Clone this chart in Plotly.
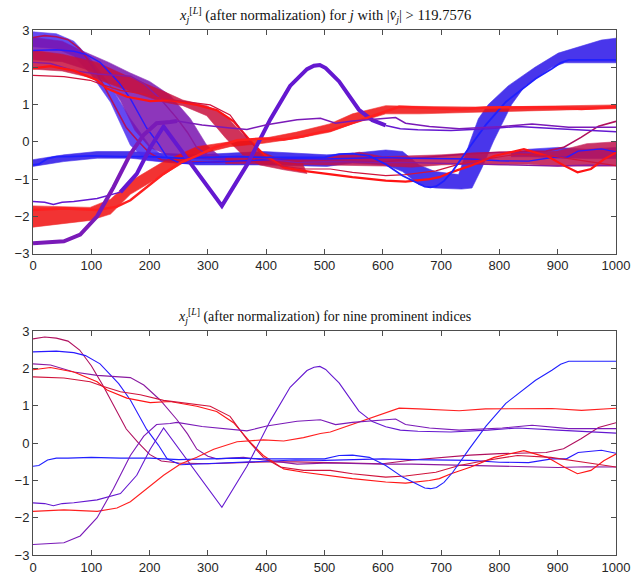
import plotly.graph_objects as go
from plotly.subplots import make_subplots

# ---------------- nine prominent trajectories ----------------
A_x = [0, 20, 40, 60, 80, 100, 120, 140, 160, 180, 200, 220, 250, 300, 350, 400, 450, 500, 550, 600, 650, 700, 750, 800, 850, 880, 910, 940, 970, 1000]
A_y = [2.8, 2.85, 2.82, 2.74, 2.5, 2.08, 1.55, 0.95, 0.38, 0.02, -0.3, -0.48, -0.53, -0.55, -0.52, -0.5, -0.5, -0.52, -0.55, -0.55, -0.45, -0.38, -0.32, -0.28, -0.25, -0.25, -0.15, 0.12, 0.42, 0.55]

B_x = [0, 40, 70, 90, 115, 147, 167, 195, 215, 230, 253, 300, 350, 400, 450, 500, 550, 600, 650, 700, 750, 800, 850, 890, 915, 935, 975, 1000]
B_y = [2.45, 2.47, 2.43, 2.35, 2.13, 1.6, 1.16, 0.37, -0.05, -0.42, -0.58, -0.55, -0.5, -0.47, -0.45, -0.46, -0.44, -0.42, -0.44, -0.44, -0.46, -0.51, -0.52, -0.42, -0.42, -0.25, -0.19, -0.27]

C_x = [0, 30, 70, 110, 167, 190, 218, 247, 265, 281, 300, 315, 361, 407, 453, 510, 550, 600, 650, 700, 750, 800, 850, 900, 950, 1000]
C_y = [2.13, 2.1, 1.91, 1.82, 1.76, 1.56, 1.16, 0.63, 0.25, -0.16, -0.35, -0.42, -0.38, -0.47, -0.56, -0.53, -0.55, -0.56, -0.56, -0.58, -0.6, -0.62, -0.62, -0.65, -0.63, -0.64]

D_x = [0, 30, 70, 110, 127, 161, 201, 235, 281, 315, 344, 373, 395, 430, 464, 510, 548, 605, 639, 680, 697, 717, 751, 791, 842, 882, 911, 934, 957, 979, 1000]
D_y = [1.97, 2.03, 1.91, 1.65, 1.43, 1.21, 1.09, 1.12, 0.99, 0.85, 0.55, 0.02, -0.33, -0.69, -0.78, -0.88, -0.95, -1.04, -1.07, -1.0, -0.95, -0.82, -0.64, -0.38, -0.2, -0.38, -0.64, -0.82, -0.73, -0.47, -0.29]

E_x = [0, 53, 98, 121, 150, 184, 224, 264, 304, 338, 367, 395, 424, 464, 510, 548, 605, 639, 691, 731, 774, 831, 888, 945, 1000]
E_y = [1.78, 1.75, 1.65, 1.52, 1.38, 1.3, 1.15, 1.07, 0.99, 0.72, 0.1, -0.38, -0.64, -0.73, -0.73, -0.82, -0.91, -0.88, -0.78, -0.6, -0.47, -0.33, -0.38, -0.51, -0.64]

F_x = [0, 10, 25, 40, 60, 100, 150, 200, 250, 300, 350, 400, 450, 500, 525, 548, 577, 605, 634, 662, 672, 682, 692, 705, 720, 748, 777, 811, 862, 890, 905, 919, 1000]
F_y = [-0.62, -0.6, -0.45, -0.4, -0.4, -0.38, -0.4, -0.4, -0.44, -0.42, -0.4, -0.42, -0.43, -0.42, -0.33, -0.32, -0.38, -0.6, -0.91, -1.13, -1.2, -1.22, -1.19, -1.05, -0.78, -0.16, 0.46, 1.07, 1.69, 1.96, 2.12, 2.2, 2.2]

G_x = [0, 20, 35, 50, 70, 110, 150, 178, 201, 224, 324, 367, 407, 441, 470, 482, 492, 502, 512, 525, 559, 582, 605, 630, 660, 717, 780, 832, 900, 1000]
G_y = [-1.6, -1.62, -1.68, -1.62, -1.6, -1.52, -1.35, -0.86, -0.16, 0.41, -1.72, -0.62, 0.6, 1.5, 1.95, 2.04, 2.06, 1.98, 1.82, 1.62, 0.86, 0.58, 0.44, 0.35, 0.32, 0.3, 0.35, 0.41, 0.35, 0.27]

H_x = [0, 53, 110, 144, 167, 195, 224, 253, 281, 310, 350, 395, 430, 464, 493, 510, 548, 588, 628, 662, 731, 776, 833, 890, 941, 1000]
H_y = [-1.83, -1.79, -1.83, -1.74, -1.57, -1.22, -0.86, -0.56, -0.38, -0.16, 0.04, 0.09, 0.06, 0.15, 0.26, 0.3, 0.5, 0.72, 0.94, 0.92, 0.87, 0.92, 0.93, 0.93, 0.88, 0.94]

I_x = [0, 53, 81, 110, 138, 167, 190, 212, 235, 247, 290, 338, 367, 401, 453, 493, 519, 548, 605, 622, 639, 680, 731, 805, 856, 919, 1000]
I_y = [-2.72, -2.67, -2.49, -2.0, -1.22, -0.33, 0.19, 0.5, 0.53, 0.56, 0.45, 0.37, 0.33, 0.46, 0.59, 0.63, 0.5, 0.56, 0.63, 0.65, 0.5, 0.41, 0.35, 0.41, 0.48, 0.39, 0.39]

line_names = ["A", "B", "C", "D", "E", "F", "G", "H", "I"]
line_data = {"A": (A_x, A_y), "B": (B_x, B_y), "C": (C_x, C_y), "D": (D_x, D_y), "E": (E_x, E_y),
             "F": (F_x, F_y), "G": (G_x, G_y), "H": (H_x, H_y), "I": (I_x, I_y)}
line_colors = {"A": "#b0105e", "B": "#2a1aff", "C": "#8a1aa0", "D": "#ff1414", "E": "#d0143c",
               "F": "#2020ff", "G": "#6418d0", "H": "#ff2020", "I": "#7a1ab8"}
# x-range in which a trajectory's bundle is thick in the upper panel
thick_span = {"G": (150, 615), "I": (0, 247)}

# ---------------- bundle envelopes for the upper panel (upper edge / lower edge) ----------------
fanblue_ux = [0, 40, 70, 100, 133, 167, 200, 225, 250]
fanblue_uy = [2.95, 2.9, 2.7, 2.2, 1.5, 0.62, -0.1, -0.4, -0.48]
fanblue_lx = [0, 40, 70, 100, 133, 167, 195, 250]
fanblue_ly = [2.55, 2.5, 2.3, 1.8, 1.06, -0.09, -0.5, -0.58]

fanpurple_ux = [0, 50, 80, 130, 165, 200, 235, 270, 298, 320, 350]
fanpurple_uy = [2.8, 2.7, 2.47, 2.13, 1.86, 1.62, 1.25, 0.62, -0.09, -0.38, -0.48]
fanpurple_lx = [0, 50, 100, 130, 150, 175, 200, 230, 280, 350]
fanpurple_ly = [2.2, 2.15, 1.9, 1.55, 1.1, 0.3, -0.15, -0.35, -0.45, -0.52]

fanred_ux = [0, 50, 110, 166, 223, 257, 298, 331, 360, 389, 420, 460]
fanred_uy = [2.45, 2.35, 2.13, 1.73, 1.36, 1.12, 0.97, 0.7, 0.2, -0.25, -0.45, -0.5]
fanred_lx = [0, 50, 110, 166, 223, 257, 298, 331, 360, 389, 430, 470]
fanred_ly = [1.95, 1.9, 1.68, 1.36, 1.07, 0.97, 0.7, 0.09, -0.36, -0.62, -0.75, -0.85]

blue_ux = [0, 53, 110, 167, 224, 281, 395, 504, 548, 605, 634, 662, 690, 730, 750, 764, 781, 815, 861, 901, 975, 1000]
blue_uy = [-0.48, -0.35, -0.26, -0.26, -0.31, -0.35, -0.26, -0.35, -0.31, -0.22, -0.26, -0.62, -0.8, -0.88, 0.02, 0.62, 1.0, 1.5, 2.0, 2.38, 2.73, 2.78]
blue_lx = [0, 53, 110, 167, 224, 281, 395, 504, 548, 605, 634, 662, 690, 735, 753, 770, 790, 821, 844, 890, 912, 1000]
blue_ly = [-0.66, -0.53, -0.44, -0.44, -0.53, -0.62, -0.62, -0.66, -0.57, -0.62, -0.8, -1.15, -1.24, -1.27, -1.24, -0.7, 0.02, 1.0, 1.5, 2.0, 2.12, 2.12]

redrise_ux = [0, 98, 133, 167, 224, 281, 338, 395, 452, 509, 548, 605, 662, 776, 1000]
redrise_uy = [-1.72, -1.76, -1.54, -1.06, -0.53, -0.13, 0.0, 0.09, 0.26, 0.48, 0.75, 0.97, 0.95, 0.93, 0.99]
redrise_lx = [0, 98, 133, 167, 224, 281, 338, 395, 452, 509, 548, 605, 662, 776, 1000]
redrise_ly = [-2.29, -2.11, -1.94, -1.41, -0.88, -0.35, -0.13, -0.04, 0.09, 0.26, 0.48, 0.75, 0.75, 0.8, 0.89]

crimson_ux = [330, 400, 500, 560, 600, 700, 750, 800, 850, 900, 950, 1000]
crimson_uy = [-0.4, -0.42, -0.42, -0.28, -0.4, -0.35, -0.3, -0.28, -0.3, -0.25, -0.05, 0.0]
crimson_lx = [330, 400, 500, 600, 650, 700, 750, 800, 850, 900, 1000]
crimson_ly = [-0.58, -0.6, -0.62, -0.65, -0.68, -0.62, -0.6, -0.62, -0.6, -0.65, -0.65]

blueright_ux = [820, 850, 900, 950, 1000]
blueright_uy = [-0.3, -0.2, -0.15, -0.2, -0.15]
blueright_lx = [820, 850, 900, 950, 1000]
blueright_ly = [-0.4, -0.4, -0.42, -0.45, -0.45]

bands = [
    ("blue", blue_ux, blue_uy, blue_lx, blue_ly, "#2a14e8"),
    ("blueright", blueright_ux, blueright_uy, blueright_lx, blueright_ly, "#3018f0"),
    ("fanblue", fanblue_ux, fanblue_uy, fanblue_lx, fanblue_ly, "#4a2af0"),
    ("fanpurple", fanpurple_ux, fanpurple_uy, fanpurple_lx, fanpurple_ly, "#7a14b0"),
    ("crimson", crimson_ux, crimson_uy, crimson_lx, crimson_ly, "#c0124e"),
    ("fanred", fanred_ux, fanred_uy, fanred_lx, fanred_ly, "#c8103e"),
    ("redrise", redrise_ux, redrise_uy, redrise_lx, redrise_ly, "#f01010"),
]

x_ticks = [0, 100, 200, 300, 400, 500, 600, 700, 800, 900, 1000]
y_ticks = [-3, -2, -1, 0, 1, 2, 3]

title_top = "<i>x</i><sub><i>j</i></sub><sup>[<i>L</i>]</sup> (after normalization) for <i>j</i> with |<i>v&#770;</i><sub><i>j</i></sub>| &gt; 119.7576"
title_bot = "<i>x</i><sub><i>j</i></sub><sup>[<i>L</i>]</sup> (after normalization) for nine prominent indices"

# ---------------- figure ----------------
W, H = 642, 587
ml, mr, mt, mb = 33, 23, 30, 24
fig = make_subplots(rows=2, cols=1)

for name, ux, uy, lx, ly, col in bands:
    fig.add_trace(go.Scatter(x=ux + lx[::-1], y=uy + ly[::-1], mode="lines", fill="toself",
                             fillcolor=col, opacity=0.85, line=dict(color=col, width=0.6),
                             hoverinfo="skip", showlegend=False), row=1, col=1)

top_width = {"A": 1.6, "B": 1.4, "C": 1.4, "D": 2.2, "E": 1.2, "F": 1.8, "H": 2.5}
for n in line_names:
    xs, ys = line_data[n]
    if n in thick_span:
        lo, hi = thick_span[n]
        pre = [(x, y) for x, y in zip(xs, ys) if x <= lo]
        mid = [(x, y) for x, y in zip(xs, ys) if lo <= x <= hi]
        post = [(x, y) for x, y in zip(xs, ys) if x >= hi]
        # connect segment edges through neighbouring data points
        if pre and mid and pre[-1] != mid[0]:
            mid = [pre[-1]] + mid
        if post and mid and post[0] != mid[-1]:
            post = [mid[-1]] + post
        for seg, w in ((pre, 1.5), (mid, 4), (post, 1.5)):
            if len(seg) > 1:
                fig.add_trace(go.Scatter(x=[p[0] for p in seg], y=[p[1] for p in seg], mode="lines",
                                         line=dict(color=line_colors[n], width=w), hoverinfo="skip",
                                         showlegend=False), row=1, col=1)
    else:
        fig.add_trace(go.Scatter(x=xs, y=ys, mode="lines",
                                 line=dict(color=line_colors[n], width=top_width[n]),
                                 hoverinfo="skip", showlegend=False), row=1, col=1)

for n in line_names:
    xs, ys = line_data[n]
    fig.add_trace(go.Scatter(x=xs, y=ys, mode="lines", line=dict(color=line_colors[n], width=1.1),
                             hoverinfo="skip", showlegend=False), row=2, col=1)

ph = H - mt - mb
top_lo = (H - mb - 257) / ph
bot_hi = (H - mb - 336) / ph

axis_common = dict(showgrid=False, zeroline=False, showline=True, linecolor="#4d4d4d", linewidth=1,
                   mirror="ticks", ticks="inside", ticklen=5, tickcolor="#4d4d4d",
                   tickfont=dict(family="Liberation Sans, Arial, sans-serif", size=13, color="#262626"))
for r in (1, 2):
    fig.update_xaxes(range=[0, 1000], tickvals=x_ticks, row=r, col=1, **axis_common)
    fig.update_yaxes(range=[-3, 3], tickvals=y_ticks, row=r, col=1, **axis_common)
fig.update_yaxes(domain=[top_lo, 1], row=1, col=1)
fig.update_yaxes(domain=[0, bot_hi], row=2, col=1)

fig.add_annotation(text=title_top, xref="paper", yref="paper", x=0.5, y=1, yshift=3,
                   xanchor="center", yanchor="bottom", showarrow=False,
                   font=dict(family="Liberation Serif, DejaVu Serif, serif", size=14.5, color="#111111"))
fig.add_annotation(text=title_bot, xref="paper", yref="paper", x=0.5, y=bot_hi, yshift=3,
                   xanchor="center", yanchor="bottom", showarrow=False,
                   font=dict(family="Liberation Serif, DejaVu Serif, serif", size=14, color="#111111"))

fig.update_layout(width=W, height=H, margin=dict(l=ml, r=mr, t=mt, b=mb),
                  paper_bgcolor="white", plot_bgcolor="white", showlegend=False)
fig.write_html("out.html")
